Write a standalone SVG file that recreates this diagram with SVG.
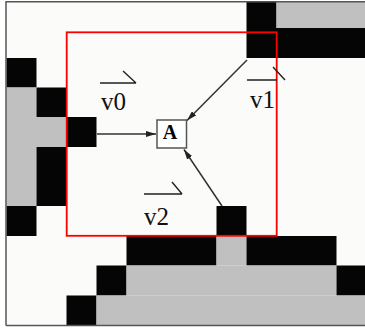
<svg xmlns="http://www.w3.org/2000/svg" width="365" height="333" viewBox="0 0 365 333">
<defs>
<style>
.bk{fill:#050505}
.gy{fill:#c0c0c0}
.ln{stroke:#333;stroke-width:1.5;fill:none}
.ov{stroke:#222;stroke-width:1.4;fill:none}
.lbl{font-family:"Liberation Serif","Times New Roman",serif;font-size:25px;fill:#111}
</style>
<marker id="ah" viewBox="0 0 10 6" refX="10" refY="3" markerWidth="10" markerHeight="6" markerUnits="userSpaceOnUse" orient="auto">
<path d="M0,0 L10,3 L0,6 Z" fill="#222"/>
</marker>
</defs>
<rect x="0" y="0" width="365" height="333" fill="#ffffff"/>
<rect x="6.5" y="2" width="360" height="323" fill="#fbfbf9"/>
<g id="grid">
<rect class="bk" x="246.5" y="2" width="30" height="26"/>
<rect class="gy" x="276.5" y="2" width="90" height="26"/>
<rect class="bk" x="246.5" y="28" width="120" height="30"/>
<rect class="bk" x="6.5" y="58" width="30" height="29.5"/>
<rect class="gy" x="6.5" y="87.5" width="30" height="29.5"/>
<rect class="bk" x="36.5" y="87.5" width="30" height="29.5"/>
<rect class="gy" x="6.5" y="117" width="60" height="30"/>
<rect class="bk" x="66.5" y="117" width="30" height="30"/>
<rect class="gy" x="6.5" y="147" width="30" height="59"/>
<rect class="bk" x="36.5" y="147" width="30" height="59"/>
<rect class="bk" x="6.5" y="206" width="30" height="30"/>
<rect class="bk" x="216.5" y="206" width="30" height="30"/>
<rect class="bk" x="126.5" y="236" width="90" height="29.5"/>
<rect class="gy" x="216.5" y="236" width="30" height="29.5"/>
<rect class="bk" x="246.5" y="236" width="90" height="29.5"/>
<rect class="bk" x="96.5" y="265.5" width="30" height="30"/>
<rect class="gy" x="126.5" y="265.5" width="210" height="30"/>
<rect class="bk" x="336.5" y="265.5" width="30" height="30"/>
<rect class="bk" x="66.5" y="295.5" width="30" height="29.5"/>
<rect class="gy" x="96.5" y="295.5" width="270" height="29.5"/>
</g>
<path d="M6,325.5 V1.8 H366 M6,325.5 H366" stroke="#555" stroke-width="1.5" fill="none"/>
<rect id="region" x="66.7" y="32.3" width="210" height="203.5" fill="none" stroke="#ff0000" stroke-width="1.8"/>
<g id="connectors">
<line class="ln" x1="97" y1="134" x2="156" y2="134" marker-end="url(#ah)"/>
<line class="ln" x1="247" y1="60" x2="187" y2="120.5" marker-end="url(#ah)"/>
<line class="ln" x1="222" y1="206" x2="184" y2="149.5" marker-end="url(#ah)"/>
</g>
<g id="nodeA">
<rect x="157" y="120" width="29.5" height="28" fill="#ffffff" stroke="#555" stroke-width="1.5"/>
<text x="170" y="139" text-anchor="middle" font-family="'Liberation Serif','Times New Roman',serif" font-weight="bold" font-size="20" fill="#000">A</text>
</g>
<g id="label-v0">
<path class="ov" d="M100,83 H136 M123,71 L136,83"/>
<text class="lbl" x="101" y="110">v0</text>
</g>
<g id="label-v1">
<path class="ov" d="M247,80 H277 M273,67 L285,80"/>
<text class="lbl" x="250" y="108">v1</text>
</g>
<g id="label-v2">
<path class="ov" d="M144,194 H182 M172,182 L182,194"/>
<text class="lbl" x="144" y="225">v2</text>
</g>
</svg>
